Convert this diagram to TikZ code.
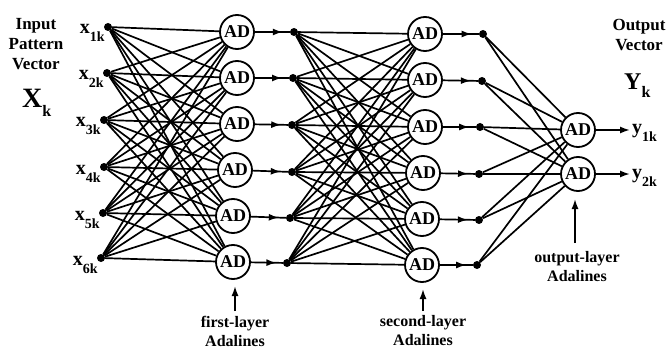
\documentclass[tikz,border=0pt]{standalone}
\usepackage{fontspec}
\setmainfont{Liberation Serif}
\usetikzlibrary{arrows.meta,decorations.markings}
\begin{document}
\begin{tikzpicture}[x=1pt,y=-1pt,
  ad/.style={circle,draw,line width=1.8pt,minimum size=34pt,inner sep=0pt,font=\fontsize{18}{18}\selectfont\bfseries,fill=white},
  dotnode/.style={circle,fill,inner sep=0pt,minimum size=8pt},
  link/.style={line width=1.7pt},
  fwd/.style={line width=1.7pt,postaction={decorate},decoration={markings,mark=at position 0.8 with {\arrow{Latex[length=10pt,width=7pt]}}}},
  lbl/.style={font=\fontsize{17}{20}\selectfont\bfseries,align=center,inner sep=0pt},
  caplbl/.style={font=\fontsize{16}{19}\selectfont\bfseries,align=center,inner sep=0pt},
  tipline/.style={line width=1.7pt,-{Latex[length=10pt,width=7pt]}},
  sublbl/.style={anchor=base east,inner sep=0pt,font=\bfseries}
]
\useasboundingbox (0,0) rectangle (669,350);
% input dots
\foreach \n/\x/\y in {1/108/27,2/107/73,3/104/120,4/104/167,5/103/213,6/101/258}
  \node[dotnode] (i\n) at (\x,\y) {};
% first layer
\foreach \n/\x/\y in {1/237/32,2/237/78,3/237/124,4/235/170,5/233/216,6/233/262}
  \node[ad] (a\n) at (\x,\y) {AD};
% hidden dots 1
\foreach \n/\x/\y in {1/294/32,2/293/78,3/292/125,4/292/172,5/290/218,6/287/263}
  \node[dotnode] (h\n) at (\x,\y) {};
% second layer
\foreach \n/\x/\y in {1/425/34,2/425/80,3/425/127,4/423/173,5/422/219,6/422/265}
  \node[ad] (b\n) at (\x,\y) {AD};
% hidden dots 2
\foreach \n/\x/\y in {1/483/34,2/482/81,3/480/127,4/479/174,5/479/220,6/477/265}
  \node[dotnode] (g\n) at (\x,\y) {};
% output layer
\node[ad] (o1) at (578,130) {AD};
\node[ad] (o2) at (578,174) {AD};

% full connections
\foreach \i in {1,...,6}{
  \foreach \j in {1,...,6}{
    \draw[link] (i\i) -- (a\j);
    \draw[link] (h\i) -- (b\j);
  }
  \draw[link] (g\i) -- (o1);
  \draw[link] (g\i) -- (o2);
  \draw[fwd] (a\i) -- (h\i);
  \draw[fwd] (b\i) -- (g\i);
}

% input labels
\foreach \n in {1,...,6}
  \node[sublbl] (xl\n) at ([xshift=1pt,yshift=-7pt]i\n.west)
    {{\fontsize{20}{20}\selectfont x}\raisebox{-8pt}{\fontsize{14}{14}\selectfont \n k}};

% outputs
\coordinate (t1) at (630,130);
\coordinate (t2) at (630,174);
\draw[tipline] (o1) -- (t1);
\draw[tipline] (o2) -- (t2);
\node[anchor=base west,inner sep=0pt,font=\bfseries] (y1) at (632,134)
  {{\fontsize{20}{20}\selectfont y}\raisebox{-8pt}{\fontsize{14}{14}\selectfont 1k}};
\node[anchor=base west,inner sep=0pt,font=\bfseries] (y2) at (632,178)
  {{\fontsize{20}{20}\selectfont y}\raisebox{-8pt}{\fontsize{14}{14}\selectfont 2k}};

% side labels
\node[lbl] (inlab) at (36,44) {Input\\Pattern\\Vector};
\node[anchor=base west,inner sep=0pt,font=\bfseries] (xk) at (22,108)
  {{\fontsize{28}{28}\selectfont X}\raisebox{-9pt}{\fontsize{16}{16}\selectfont k}};
\node[lbl] (outlab) at (639,35) {Output\\Vector};
\node[anchor=base west,inner sep=0pt,font=\bfseries] (yk) at (624,90)
  {{\fontsize{24}{24}\selectfont Y}\raisebox{-8pt}{\fontsize{16}{16}\selectfont k}};

% layer captions
\node[caplbl] (cap1) at (235,331) {first-layer\\Adalines};
\node[caplbl] (cap2) at (423,331) {second-layer\\Adalines};
\node[caplbl] (cap3) at (577,267) {output-layer\\Adalines};
\coordinate (c1s) at (235,311); \coordinate (c1e) at (235,286);
\coordinate (c2s) at (423,311); \coordinate (c2e) at (423,289);
\coordinate (c3s) at (575,243); \coordinate (c3e) at (575,199);
\draw[tipline] (c1s) -- (c1e);
\draw[tipline] (c2s) -- (c2e);
\draw[tipline] (c3s) -- (c3e);
\end{tikzpicture}
\end{document}
